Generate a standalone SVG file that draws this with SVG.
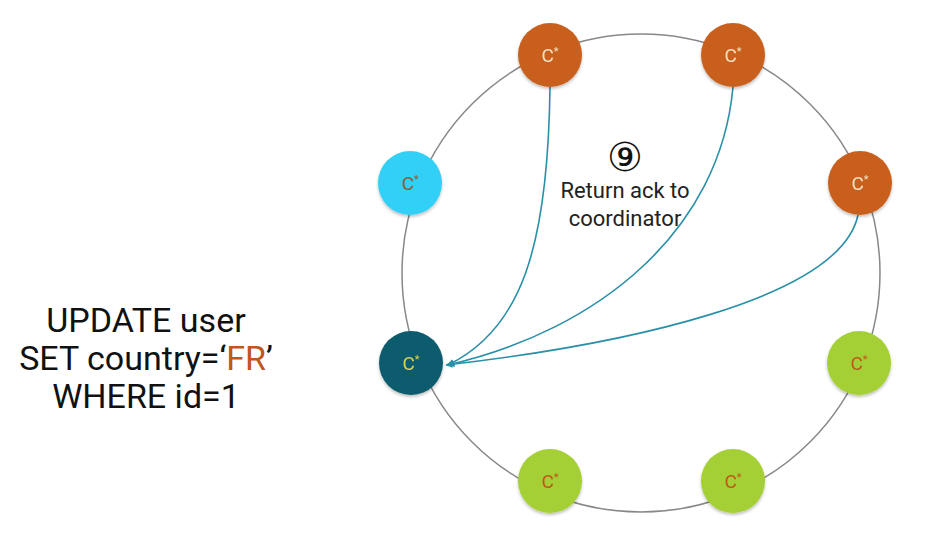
<svg xmlns="http://www.w3.org/2000/svg" width="945" height="555" viewBox="0 0 945 555">
<defs>
<filter id="sh" x="-20%" y="-20%" width="140%" height="150%"><feDropShadow dx="0" dy="2" stdDeviation="1.5" flood-color="#000" flood-opacity="0.25"/></filter>
<marker id="ah" viewBox="0 0 10 10" refX="9" refY="5" markerWidth="7" markerHeight="7" orient="auto" markerUnits="userSpaceOnUse"><path d="M0,0 L10,5 L0,10 z" fill="#2A8FA8"/></marker>
</defs>
<style>
.n{filter:url(#sh)}
.t{font-family:Roboto,"Liberation Sans",sans-serif;font-size:19px;text-anchor:middle}
.s{font-size:11px}
.e{fill:none;stroke:#2A8FA8;stroke-width:1.6}
.q{font-family:Roboto,"Liberation Sans",sans-serif;font-size:34px;text-anchor:middle;fill:#111}
.l{font-family:Roboto,"Liberation Sans",sans-serif;font-size:22px;text-anchor:middle;fill:#222}
</style>
<rect width="945" height="555" fill="#fff"/>
<circle cx="641" cy="273" r="239" fill="none" stroke="#888" stroke-width="1.5"/>
<g id="query">
<text class="q" x="146" y="332">UPDATE user</text>
<text class="q" x="146" y="370">SET country=‘<tspan fill="#C0561A">FR</tspan>’</text>
<text class="q" x="146" y="408">WHERE id=1</text>
</g>
<g id="label">
<text x="625" y="171" font-family="'DejaVu Sans',sans-serif" font-size="40" text-anchor="middle" fill="#111">⑨</text>
<text class="l" x="625" y="198">Return ack to</text>
<text class="l" x="625" y="226">coordinator</text>
</g>
<g id="connectors">
<path class="e" d="M550,87 C548,250 520,330 448,365" marker-end="url(#ah)"/>
<path class="e" d="M733,87 C720,230 600,330 448,365" marker-end="url(#ah)"/>
<path class="e" d="M858,215 C840,300 620,345 446,365" marker-end="url(#ah)"/>
</g>
<g id="n1" class="n"><circle cx="550" cy="55" r="32" fill="#C95F1B"/><text class="t" x="550" y="62" fill="#F2E2C4">C<tspan class="s" dy="-7">*</tspan></text></g>
<g id="n2" class="n"><circle cx="733" cy="55" r="32" fill="#C95F1B"/><text class="t" x="733" y="62" fill="#F2E2C4">C<tspan class="s" dy="-7">*</tspan></text></g>
<g id="n3" class="n"><circle cx="860" cy="183" r="32" fill="#C95F1B"/><text class="t" x="860" y="190" fill="#F2E2C4">C<tspan class="s" dy="-7">*</tspan></text></g>
<g id="n4" class="n"><circle cx="410" cy="183" r="32" fill="#33D0F6"/><text class="t" x="410" y="190" fill="#8A5A2E">C<tspan class="s" dy="-7">*</tspan></text></g>
<g id="n5" class="n"><circle cx="411" cy="363" r="32" fill="#0C5B6E"/><text class="t" x="411" y="370" fill="#D9D34A">C<tspan class="s" dy="-7">*</tspan></text></g>
<g id="n6" class="n"><circle cx="859" cy="363" r="32" fill="#A4CF36"/><text class="t" x="859" y="370" fill="#C0561A">C<tspan class="s" dy="-7">*</tspan></text></g>
<g id="n7" class="n"><circle cx="550" cy="481" r="32" fill="#A4CF36"/><text class="t" x="550" y="488" fill="#C0561A">C<tspan class="s" dy="-7">*</tspan></text></g>
<g id="n8" class="n"><circle cx="733" cy="481" r="32" fill="#A4CF36"/><text class="t" x="733" y="488" fill="#C0561A">C<tspan class="s" dy="-7">*</tspan></text></g>
</svg>
